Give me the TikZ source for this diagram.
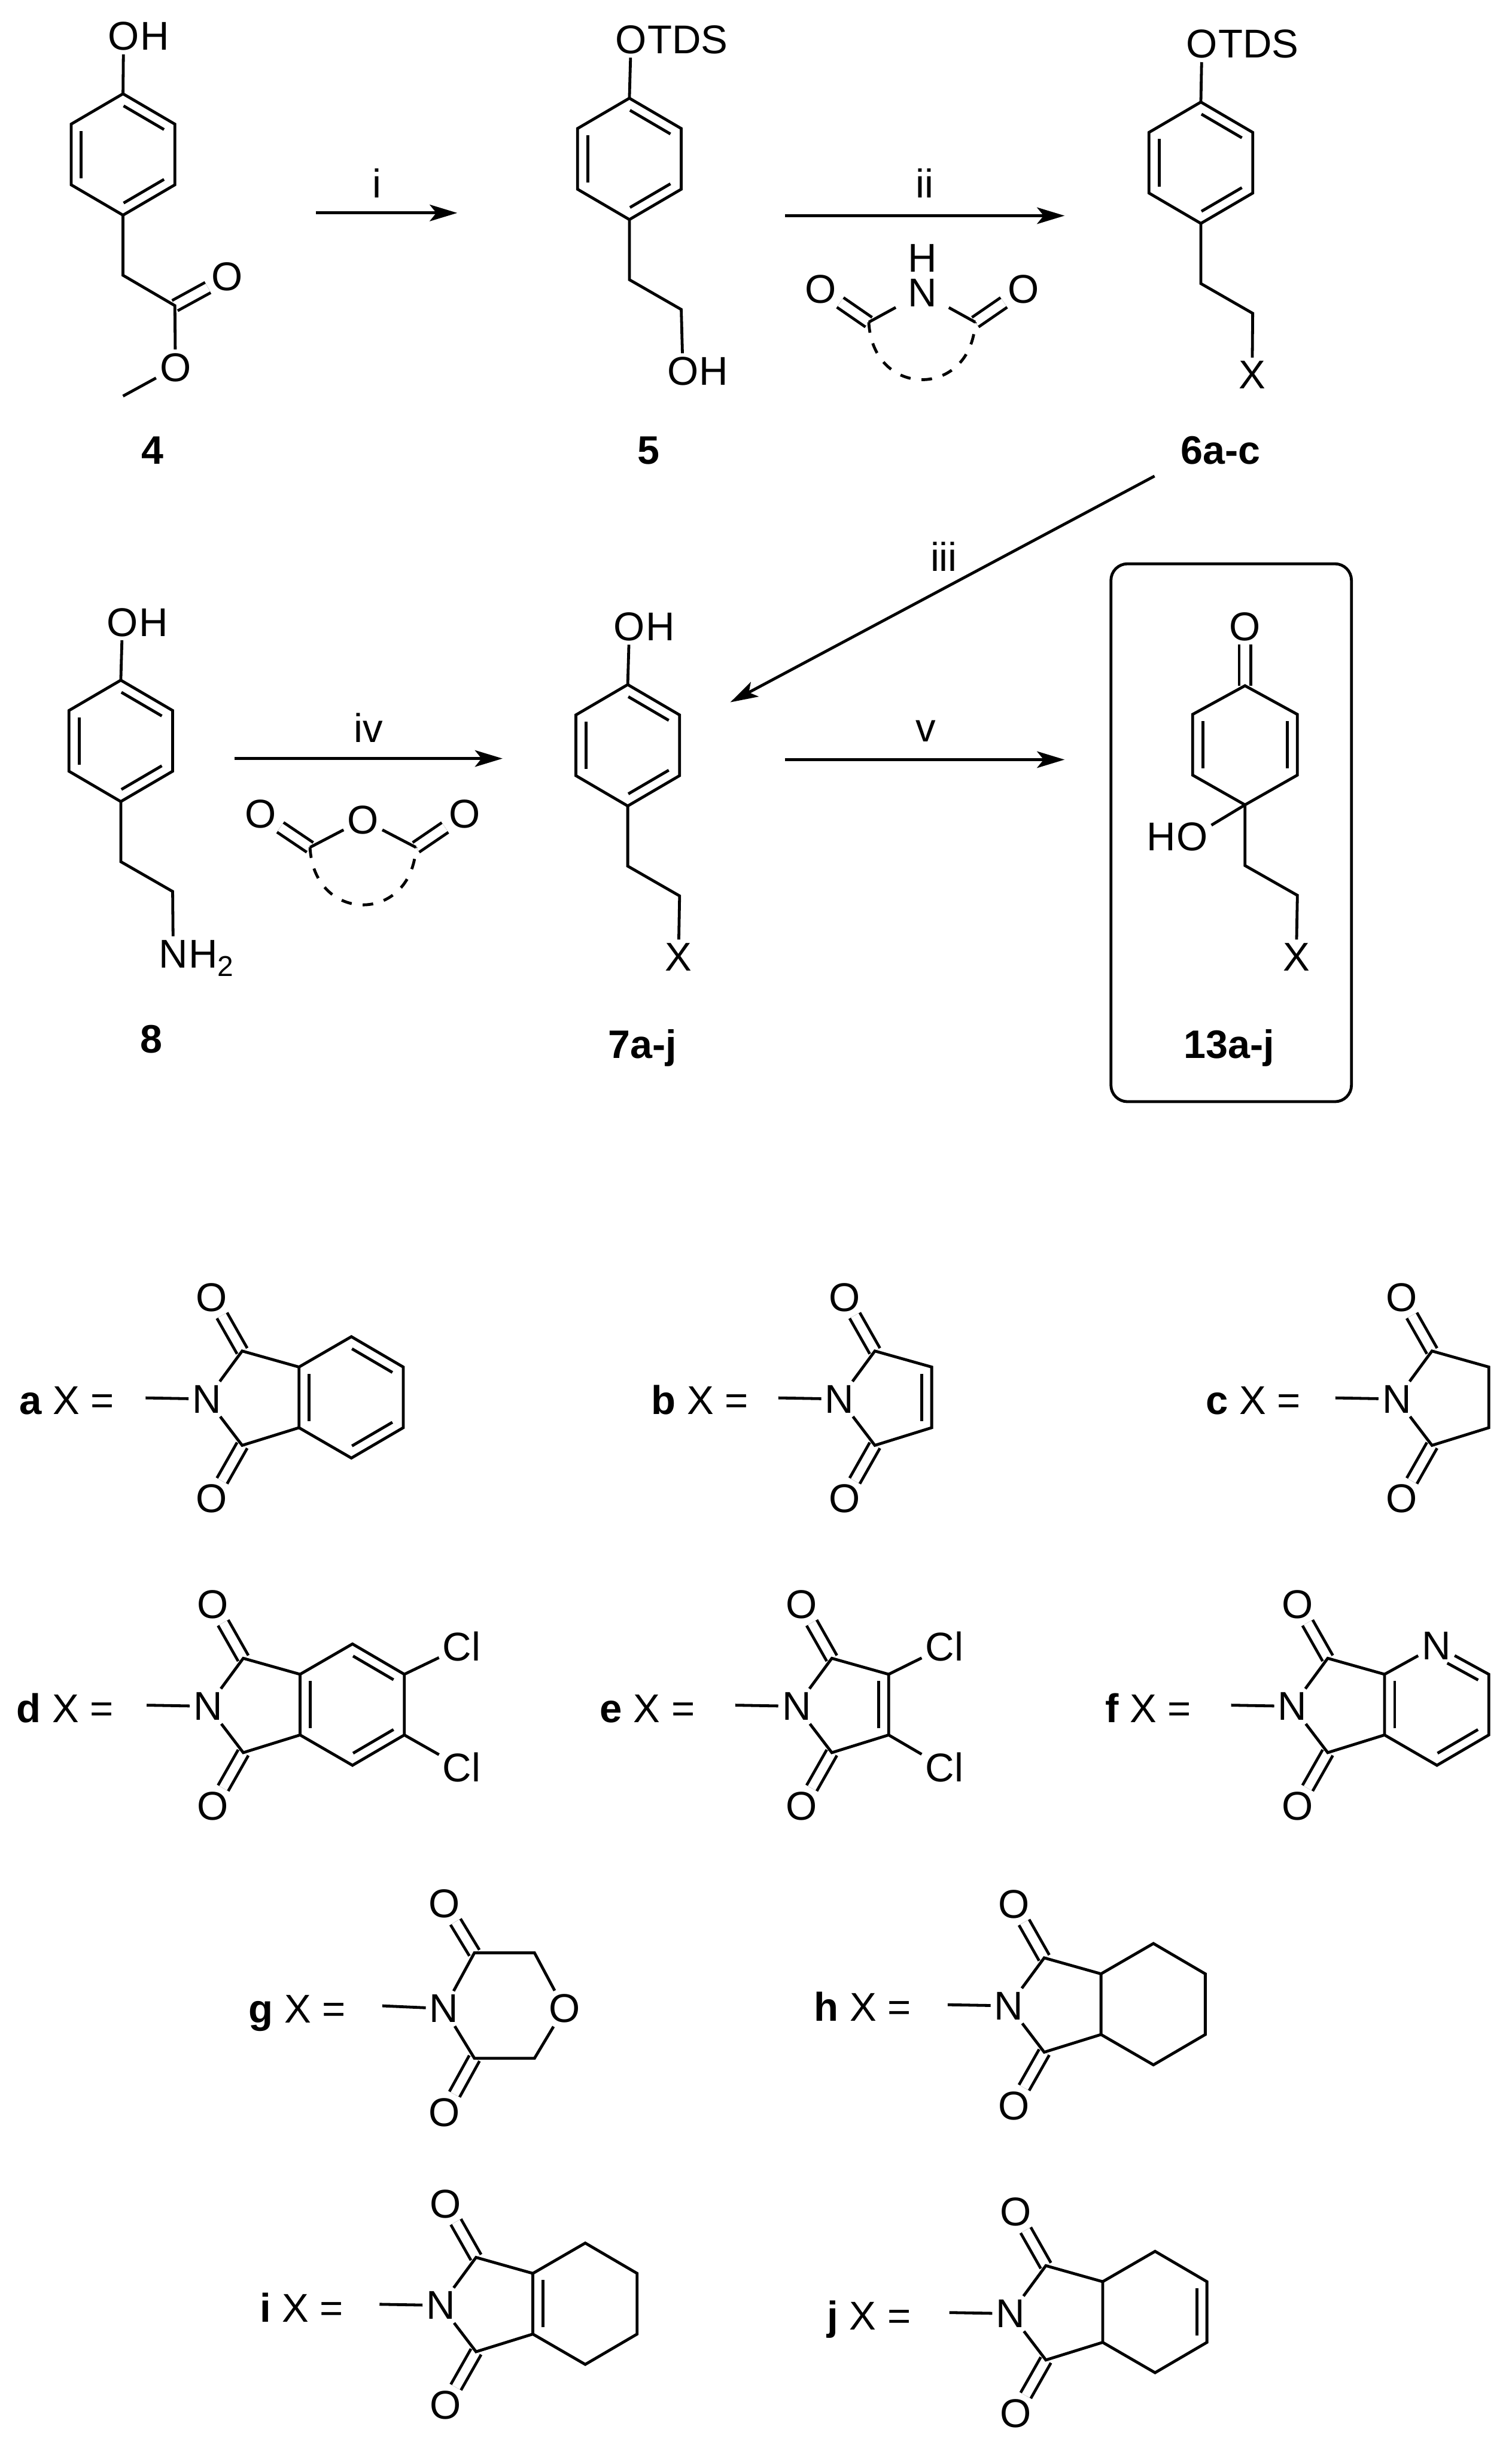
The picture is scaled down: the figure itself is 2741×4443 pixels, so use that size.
\documentclass[tikz,border=0pt]{standalone}
\usepackage{fontspec}
\setmainfont{Liberation Sans}
\usetikzlibrary{positioning,calc,arrows.meta}

\tikzset{
  bond/.style={line width=1.3pt},
  dbl/.style={line width=1.3pt,double,double distance=3.95pt},
  ringarc/.style={line width=1.3pt,dash pattern=on 4.8pt off 5pt},
  rxn/.style={line width=1.3pt,-{Stealth[length=12.5pt,width=7.5pt,inset=3pt]}},
  atom/.style={inner sep=1.5pt,font=\fontsize{18.2}{20}\selectfont},
  tail/.style={inner sep=0pt,xshift=-1.5pt,anchor=base west,font=\fontsize{18.2}{20}\selectfont},
  head/.style={inner sep=0pt,xshift=1.5pt,anchor=base east,font=\fontsize{18.2}{20}\selectfont},
  cond/.style={inner sep=0pt,font=\fontsize{18.2}{20}\selectfont},
  cpd/.style={inner sep=0pt,anchor=base,font=\fontsize{18}{20}\selectfont\bfseries},
  xlab/.style={inner sep=0pt,anchor=base west,font=\fontsize{18.2}{20}\selectfont}
}

\newcommand{\inbond}[2]{\draw[bond] ($(#1)!.11!(#2)!4.6pt!-90:(#2)$) -- ($(#2)!.11!(#1)!4.6pt!90:(#1)$);}

\newcommand{\phenring}{%
  \coordinate (r1) at (0,0);
  \coordinate (r2) at (94,55);
  \coordinate (r3) at (94,165);
  \coordinate (r4) at (0,220);
  \coordinate (r5) at (-94,165);
  \coordinate (r6) at (-94,55);
  \draw[bond] (r1) -- (r2) -- (r3) -- (r4) -- (r5) -- (r6) -- cycle;
  \inbond{r1}{r2}
  \inbond{r3}{r4}
  \inbond{r5}{r6}
}

\newcommand{\ethyl}[1]{%
  \coordinate (c1) at (0,329);
  \coordinate (c2) at (94,383);
  \draw[bond] (r4) -- (c1) -- (c2) -- (#1);
}

\newcommand{\imide}{%
  \node[atom] (n) at (0,2) {N};
  \node[atom] (ot) at (9,-182) {O};
  \node[atom] (ob) at (9,183) {O};
  \coordinate (free) at (-111,0);
  \coordinate (ct) at (64,-85);
  \coordinate (cb) at (64,86);
  \coordinate (jt) at (167,-56);
  \coordinate (jb) at (167,54);
  \draw[bond] (free) -- (n);
  \draw[dbl] (ct) -- (ot);
  \draw[dbl] (cb) -- (ob);
  \draw[bond] (n) -- (ct) -- (jt) -- (jb) -- (cb) -- (n);
}

\newcommand{\sixring}{%
  \coordinate (s1) at (262,-111);
  \coordinate (s2) at (356,-56);
  \coordinate (s3) at (356,54);
  \coordinate (s4) at (262,109);
}

\begin{document}
\begin{tikzpicture}[x=.25pt,y=-.25pt]
  \useasboundingbox (0,0) rectangle (2741,4443);

  \begin{scope}[shift={(223,170)},name prefix=m4-]
    \phenring
    \node[atom] (o) at (1,-104) {O};
    \node[tail] (h) at (o.base east) {H};
    \node[atom] (oc) at (189,332) {O};
    \node[atom] (oe) at (95,496) {O};
    \coordinate (c1) at (0,329);
    \coordinate (c2) at (94,384);
    \coordinate (me) at (0,548);
    \draw[dbl] (c2) -- (oc);
    \draw[bond] (r1) -- (o);
    \draw[bond] (r4) -- (c1) -- (c2) -- (oe) -- (me);
  \end{scope}
  \node[cpd] (l4) at (277,841) {4};

  \begin{scope}[shift={(1141,178)},name prefix=m5-]
    \phenring
    \node[atom] (o) at (3,-106) {O};
    \node[tail] (t) at (o.base east) {TDS};
    \node[atom] (oh) at (97,495) {O};
    \node[tail] (h) at (oh.base east) {H};
    \draw[bond] (r1) -- (o);
    \ethyl{oh}
  \end{scope}
  \node[cpd] (l5) at (1176,841) {5};

  \begin{scope}[shift={(2177,185)},name prefix=m6-]
    \phenring
    \node[atom] (o) at (2,-105) {O};
    \node[tail] (t) at (o.base east) {TDS};
    \node[atom] (x) at (93,495) {X};
    \draw[bond] (r1) -- (o);
    \ethyl{x}
  \end{scope}
  \node[cpd] (l6) at (2213,841) {6a-c};

  \begin{scope}[shift={(219,1233)},name prefix=m8-]
    \phenring
    \node[atom] (o) at (3,-105) {O};
    \node[tail] (h) at (o.base east) {H};
    \node[atom] (nh) at (95,496) {N};
    \node[tail] (h2) at (nh.base east) {H\raisebox{-4pt}{\fontsize{13}{14}\selectfont 2}};
    \draw[bond] (r1) -- (o);
    \ethyl{nh}
  \end{scope}
  \node[cpd] (l8) at (274,1909) {8};

  \begin{scope}[shift={(1138,1241)},name prefix=m7-]
    \phenring
    \node[atom] (o) at (3,-105) {O};
    \node[tail] (h) at (o.base east) {H};
    \node[atom] (x) at (92,494) {X};
    \draw[bond] (r1) -- (o);
    \ethyl{x}
  \end{scope}
  \node[cpd] (l7) at (1165,1918) {7a-j};

  \draw[bond,rounded corners=7.5pt] (2014,1022) rectangle (2450,1997);
  \begin{scope}[shift={(2257,1243)},name prefix=m13-]
    \coordinate (r1) at (0,0);
    \coordinate (r2) at (95,52);
    \coordinate (r3) at (95,162);
    \coordinate (r4) at (0,216);
    \coordinate (r5) at (-95,162);
    \coordinate (r6) at (-95,52);
    \coordinate (c1) at (0,326);
    \coordinate (c2) at (95,380);
    \node[atom] (o) at (0,-107) {O};
    \node[atom] (oh) at (-96,274) {O};
    \node[head] (h) at (oh.base west) {H};
    \node[atom] (x) at (93,492) {X};
    \draw[dbl] (r1) -- (o);
    \draw[bond] (r1) -- (r2) -- (r3) -- (r4) -- (r5) -- (r6) -- cycle;
    \inbond{r2}{r3}
    \inbond{r5}{r6}
    \draw[bond] (r4) -- (oh);
    \draw[bond] (r4) -- (c1) -- (c2) -- (x);
  \end{scope}
  \node[cpd] (l13) at (2228,1918) {13a-j};

  \coordinate (a1) at (573,386);
  \coordinate (b1) at (829,386);
  \coordinate (a2) at (1423,391);
  \coordinate (b2) at (1930,391);
  \coordinate (a3) at (2093,863);
  \coordinate (b3) at (1324,1273);
  \coordinate (a4) at (425,1375);
  \coordinate (b4) at (911,1375);
  \coordinate (a5) at (1423,1377);
  \coordinate (b5) at (1930,1377);
  \draw[rxn] (a1) -- (b1);
  \draw[rxn] (a2) -- (b2);
  \draw[rxn] (a3) -- (b3);
  \draw[rxn] (a4) -- (b4);
  \draw[rxn] (a5) -- (b5);
  \node[cond] (i1) at (683,332) {i};
  \node[cond] (i2) at (1676,332) {ii};
  \node[cond] (i3) at (1711,1009) {iii};
  \node[cond] (i4) at (668,1319) {iv};
  \node[cond] (i5) at (1678,1325) {v};

  \node[cond] (rn) at (1672,531) {N};
  \node[cond] (rh) at (1672,468) {H};
  \node[atom] (ro1) at (1488,524) {O};
  \node[atom] (ro2) at (1855,524) {O};
  \coordinate (rc1) at (1575,584);
  \coordinate (rc2) at (1768,584);
  \draw[dbl] (rc1) -- (ro1);
  \draw[dbl] (rc2) -- (ro2);
  \draw[bond,shorten >=6pt] (rc1) -- (rn);
  \draw[bond,shorten >=6pt] (rc2) -- (rn);
  \draw[ringarc] (rc1) .. controls (1582,723) and (1761,723) .. (rc2);

  \node[atom] (so) at (658,1486) {O};
  \node[atom] (so1) at (473,1476) {O};
  \node[atom] (so2) at (842,1476) {O};
  \coordinate (sc1) at (562,1536);
  \coordinate (sc2) at (754,1536);
  \draw[dbl] (sc1) -- (so1);
  \draw[dbl] (sc2) -- (so2);
  \draw[bond] (sc1) -- (so) -- (sc2);
  \draw[ringarc] (sc1) .. controls (569,1675) and (747,1675) .. (sc2);

  \node[xlab] (la) at (34,2564) {\textbf{a} X =};
  \begin{scope}[shift={(375,2534)},name prefix=xa-]
    \imide
    \sixring
    \draw[bond] (jt) -- (s1) -- (s2) -- (s3) -- (s4) -- (jb);
    \inbond{jb}{jt}
    \inbond{s1}{s2}
    \inbond{s3}{s4}
  \end{scope}

  \node[xlab] (lb) at (1180,2564) {\textbf{b} X =};
  \begin{scope}[shift={(1522,2534)},name prefix=xb-]
    \imide
    \inbond{jt}{jb}
  \end{scope}

  \node[xlab] (lc) at (2185,2564) {\textbf{c} X =};
  \begin{scope}[shift={(2532,2534)},name prefix=xc-]
    \imide
  \end{scope}

  \node[xlab] (ld) at (29,3122) {\textbf{d} X =};
  \begin{scope}[shift={(377,3091)},name prefix=xd-]
    \imide
    \sixring
    \node[atom] (cl1) at (460,-106) {Cl};
    \node[atom] (cl2) at (460,113) {Cl};
    \draw[bond] (jt) -- (s1) -- (s2) -- (s3) -- (s4) -- (jb);
    \draw[bond] (s2) -- (cl1);
    \draw[bond] (s3) -- (cl2);
    \inbond{jb}{jt}
    \inbond{s1}{s2}
    \inbond{s3}{s4}
  \end{scope}

  \node[xlab] (le) at (1087,3122) {\textbf{e} X =};
  \begin{scope}[shift={(1444,3091)},name prefix=xe-]
    \imide
    \node[atom] (cl1) at (268,-106) {Cl};
    \node[atom] (cl2) at (268,113) {Cl};
    \draw[bond] (jt) -- (cl1);
    \draw[bond] (jb) -- (cl2);
    \inbond{jt}{jb}
  \end{scope}

  \node[xlab] (lf) at (2003,3122) {\textbf{f} X =};
  \begin{scope}[shift={(2343,3091)},name prefix=xf-]
    \imide
    \sixring
    \node[atom] (py) at (261,-108) {N};
    \draw[bond] (jt) -- (py) -- (s2) -- (s3) -- (s4) -- (jb);
    \inbond{jb}{jt}
    \inbond{s3}{s4}
    \draw[bond] ($(py)!.3!(s2)!4.6pt!-90:(s2)$) -- ($(s2)!.11!(py)!4.6pt!90:(py)$);
  \end{scope}

  \node[xlab] (lg) at (450,3667) {\textbf{g} X =};
  \begin{scope}[shift={(805,3636)},name prefix=xg-]
    \node[atom] (n) at (0,5) {N};
    \node[atom] (ot) at (1,-185) {O};
    \node[atom] (ob) at (1,193) {O};
    \node[atom] (om) at (218,5) {O};
    \coordinate (free) at (-112,0);
    \coordinate (ct) at (55,-96);
    \coordinate (cb) at (55,95);
    \coordinate (mt) at (164,-96);
    \coordinate (mb) at (164,95);
    \draw[bond] (free) -- (n);
    \draw[dbl] (ct) -- (ot);
    \draw[dbl] (cb) -- (ob);
    \draw[bond] (n) -- (ct) -- (mt) -- (om) -- (mb) -- (cb) -- (n);
  \end{scope}

  \node[xlab] (lh) at (1475,3664) {\textbf{h} X =};
  \begin{scope}[shift={(1829,3634)},name prefix=xh-]
    \imide
    \sixring
    \draw[bond] (jt) -- (s1) -- (s2) -- (s3) -- (s4) -- (jb);
  \end{scope}

  \node[xlab] (li) at (470,4209) {\textbf{i} X =};
  \begin{scope}[shift={(799,4177)},name prefix=xi-]
    \imide
    \sixring
    \draw[bond] (jt) -- (s1) -- (s2) -- (s3) -- (s4) -- (jb);
    \inbond{jb}{jt}
  \end{scope}

  \node[xlab] (lj) at (1499,4223) {\textbf{j} X =};
  \begin{scope}[shift={(1832,4192)},name prefix=xj-]
    \imide
    \sixring
    \draw[bond] (jt) -- (s1) -- (s2) -- (s3) -- (s4) -- (jb);
    \inbond{s2}{s3}
  \end{scope}
\end{tikzpicture}
\end{document}
